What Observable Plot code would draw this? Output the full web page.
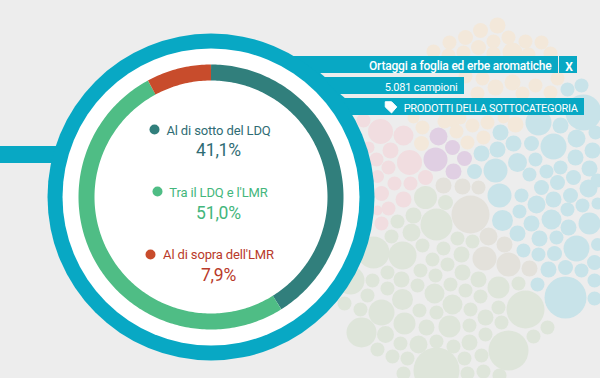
<!DOCTYPE html>
<html>
<head>
<meta charset="utf-8">
<script src="https://cdn.jsdelivr.net/npm/d3@7"></script>
<script src="https://cdn.jsdelivr.net/npm/@observablehq/plot@0.6"></script>
<style>
html,body{margin:0;padding:0;background:#ededed;overflow:hidden}
svg{display:block}
.tight-label text{letter-spacing:-0.14px}
.tight-value text{letter-spacing:-0.2px}
.tight-title text{letter-spacing:-0.2px}
.tight-count text{letter-spacing:-0.2px}
.tight-caps text{letter-spacing:-0.33px}
</style>
</head>
<body>
<div id="chart"></div>
<script>
// Chart values
const labels = ["Al di sotto del LDQ", "Tra il LDQ e l'LMR", "Al di sopra dell'LMR"];
const values = [41.1, 51.0, 7.9];
const valueTexts = ["41,1%", "51,0%", "7,9%"];
const ringColors = ["#317f7c", "#4fbd85", "#c84c2c"];
const textColors = ["#2f6c74", "#43b67c", "#b93a2a"];
const labelBaselines = [134, 196, 258];
const valueBaselines = [155, 218, 280];
const dotX = [154, 157, 150];
const dotY = [129, 191, 254];

const headerTexts = ["Ortaggi a foglia ed erbe aromatiche", "5.081 campioni", "PRODOTTI DELLA SOTTOCATEGORIA"];
const closeText = "X";

// Background bubbles: [x, y, r]
const pinkBubbles = [[380,131,12.5],[403,135,10],[363,120,7],[390,150,8],[409,162,12.5],[376,159,7],[388,167,7],[425,177,7.5],[394,183,7],[410,183,7],[377,176,6.5],[381,193,7.5],[403,199,8],[388,208,7],[368,147,6],[377,210,5],[381,223,7]];
const purpleBubbles = [[438,136,9],[452,147,7.5],[435,159,12],[464,158,7.5],[453,171,8]];
const creamBubbles = [[497,25,8],[480,30,7.5],[465,37,7.5],[449,42,7],[433,51,7],[478,47,7.5],[493,41,7],[508,37,7],[525,41,7],[541,42,7],[463,52,7],[448,55,7],[512,52,10],[493,53,7],[528,54,7],[550,53,7],[482,78,7],[465,76,7],[495,87,8],[512,82,8],[535,85,7],[557,78,7],[550,92,7],[522,93,7],[477,93,7],[453,120,7],[413,117,6],[422,127,7],[421,143,7.5],[444,121,7],[456,131,7],[467,142,7],[472,125,7],[460,118,6],[487,122,7],[515,124,8],[483,137,7],[503,117,6]];
const blueBubbles = [[538,122,13],[560,125,8],[583,112,18],[567,89,7],[581,85,7],[500,132,8],[513,143,8],[531,143,7.5],[553,146,13],[576,138,9],[595,132,7],[592,150,8],[497,149,8],[481,153,8],[517,162,9.5],[535,159,7],[575,157,8],[495,170,12],[474,171,7.5],[529,174,7],[546,171,7],[560,167,7],[588,188,9],[541,187,7.5],[557,182,7.5],[573,177,7.5],[597,180,7],[589,168,8],[499,195,12],[521,195,7],[570,195,7.5],[553,199,8],[536,204,9],[582,205,7],[597,203,6],[519,211,7],[567,209,7],[551,219,10],[502,220,10.5],[531,223,8],[568,227,8],[589,223,11],[517,233,8],[539,238,8],[556,237,7],[576,248,13],[523,250,7],[538,254,7],[554,253,7.5],[597,244,6.5],[594,262,7.5],[548,269,8],[565,267,7.5],[581,270,7],[594,280,7],[537,284,7],[565,297,21],[594,298,7]];
const beigeBubbles = [[470,214,19],[488,236,9],[504,244,8],[484,258,12],[508,264,12],[529,268,8],[443,185,8],[462,186,8],[478,187,7]];
const greenBubbles = [[425,197,11.5],[445,202,7.5],[472,241,7],[461,254,8],[462,272,8],[478,279,8],[498,287,11],[518,283,7],[465,290,7],[480,296,7],[525,309,19],[498,307,7],[470,309,7],[485,317,8],[501,322,7],[469,325,7],[485,334,7],[547,327,7],[533,336,7],[469,342,8],[508,350,20],[481,355,7],[464,358,7],[483,371,7],[499,375,7],[467,373,7],[436,224,16],[413,215,8],[397,221,7],[411,232,9],[391,236,7],[373,252,16],[402,255,14],[422,245,7],[443,248,7],[457,238,7],[432,259,7],[447,264,7],[387,272,7],[420,270,7],[372,280,7],[401,279,8],[435,275,7],[350,280,14],[387,288,7],[417,285,7],[450,284,7],[434,293,10],[402,299,10.5],[367,295,7],[452,304,10],[344,303,7],[360,309,7],[381,312,13],[419,310,7],[436,312,7],[404,323,11],[426,327,8],[449,326,11],[361,332,15],[385,334,8.5],[400,343,7],[418,344,9],[436,341,7],[453,346,7],[377,349,7],[392,356,7],[407,358,7],[436,370,23],[403,373,7]];
const bubbleGroups = [
  [pinkBubbles, "#f1dde0"],
  [purpleBubbles, "#e0cfe3"],
  [creamBubbles, "#f3e8da"],
  [blueBubbles, "#c8e3e9"],
  [beigeBubbles, "#e3e1db"],
  [greenBubbles, "#dee5da"]
];

// Layout figures for the ribbons and rings
const teal = "#08a8c4";
const ringCentre = {x: 210.5, y: 196.5};
const outerRing = {outer: 163.5, inner: 148.5};
const dataRing = {radius: 124.5, width: 16};
const ribbons = [
  {x1: 250, x2: 558, y1: 56, y2: 73},
  {x1: 559, x2: 577, y1: 56, y2: 73},
  {x1: 250, x2: 464, y1: 77, y2: 94},
  {x1: 250, x2: 584, y1: 98, y2: 115},
  {x1: 0, x2: 70, y1: 146, y2: 163}
];
const ribbonFillers = [
  [{y: 72, a: 250, b: 319}, {y: 78, a: 250, b: 326}],
  [{y: 93, a: 250, b: 339}, {y: 99, a: 250, b: 346}]
];

// Ring path from the values: clockwise from twelve o'clock
let cumulative = 0;
const ringPoints = labels.flatMap((label, i) => {
  const start = cumulative, end = cumulative + values[i];
  cumulative = end;
  const steps = Math.max(2, Math.ceil(values[i] * 3.6));
  return d3.range(steps + 1).map(k => {
    const a = (start + (end - start) * k / steps) / 100 * 2 * Math.PI;
    return {
      label,
      x: ringCentre.x + dataRing.radius * Math.sin(a),
      y: ringCentre.y - dataRing.radius * Math.cos(a)
    };
  });
});

const font = "Roboto, sans-serif";
const tagSymbol = {
  draw(ctx, size) {
    const s = Math.sqrt(size) / 2;
    ctx.moveTo(-s, -s);
    ctx.lineTo(0.1 * s, -s);
    ctx.lineTo(s, -0.1 * s);
    ctx.lineTo(0.1 * s, s * 0.95);
    ctx.lineTo(-s, -0.1 * s);
    ctx.closePath();
  }
};

const one = [0];
const plot = Plot.plot({
  width: 600,
  height: 378,
  margin: 0,
  x: {domain: [0, 600], range: [0, 600], axis: null},
  y: {domain: [0, 378], range: [0, 378], axis: null},
  r: {type: "identity"},
  color: {domain: labels, range: ringColors},
  style: {background: "#ededed", fontFamily: font},
  marks: [
    ...bubbleGroups.map(([items, fill]) =>
      Plot.dot(items, {x: d => d[0], y: d => d[1], r: d => d[2], fill})),
    Plot.rect(ribbons, {x1: "x1", x2: "x2", y1: "y1", y2: "y2", fill: teal}),
    ...ribbonFillers.map(f => Plot.areaX(f, {y: "y", x1: "a", x2: "b", fill: teal})),
    Plot.dot(one, {x: () => ringCentre.x, y: () => ringCentre.y, r: () => outerRing.outer, fill: teal}),
    Plot.dot(one, {x: () => ringCentre.x, y: () => ringCentre.y, r: () => outerRing.inner, fill: "#ffffff"}),
    Plot.line(ringPoints, {x: "x", y: "y", z: "label", stroke: "label", strokeWidth: dataRing.width, strokeLinecap: "butt", strokeLinejoin: "round"}),
    // Centre legend
    Plot.dot(labels, {x: (d, i) => dotX[i], y: (d, i) => dotY[i], r: () => 5, fill: d => d, stroke: null}),
    Plot.text(labels, {x: 218, y: (d, i) => labelBaselines[i], text: d => d, fill: (d, i) => textColors[i], fontSize: 13, fontFamily: font, textAnchor: "middle", lineAnchor: "bottom", className: "tight-label"}),
    Plot.text(valueTexts, {x: 218, y: (d, i) => valueBaselines[i], text: d => d, fill: (d, i) => textColors[i], fontSize: 17.5, fontFamily: font, textAnchor: "middle", lineAnchor: "bottom", className: "tight-value"}),
    // Header ribbons
    Plot.text([headerTexts[0]], {x: 551, y: 69, text: d => d, fill: "#ffffff", fontSize: 12, fontWeight: 500, fontFamily: font, textAnchor: "end", lineAnchor: "bottom", className: "tight-title"}),
    Plot.text([closeText], {x: 568.5, y: 70, text: d => d, fill: "#ffffff", fontSize: 12, fontWeight: 700, fontFamily: font, textAnchor: "middle", lineAnchor: "bottom"}),
    Plot.text([headerTexts[1]], {x: 457, y: 90, text: d => d, fill: "#ffffff", fontSize: 11, fontFamily: font, textAnchor: "end", lineAnchor: "bottom", className: "tight-count"}),
    Plot.text([headerTexts[2]], {x: 577, y: 111, text: d => d, fill: "#ffffff", fontSize: 11, fontFamily: font, textAnchor: "end", lineAnchor: "bottom", className: "tight-caps"}),
    Plot.dot(one, {x: () => 390.5, y: () => 107, symbol: tagSymbol, r: 6.5, fill: "#ffffff", stroke: "#ffffff", strokeWidth: 1, strokeLinejoin: "round"})
  ]
});
document.getElementById("chart").appendChild(plot);
</script>
</body>
</html>
